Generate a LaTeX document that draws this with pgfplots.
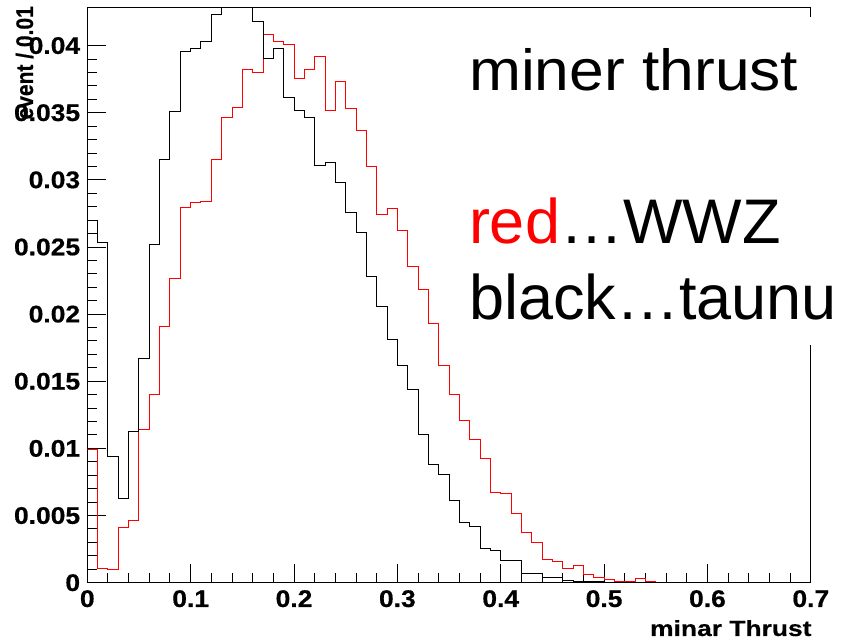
\documentclass[border=0pt]{standalone}
\usepackage{fontspec}
\setmainfont{Liberation Sans}
\newfontfamily\tickfont[FakeStretch=1.1, BoldFeatures={FakeBold=0.6}]{Liberation Sans}
\newfontfamily\labfont[FakeStretch=1.2, BoldFeatures={FakeBold=0.5}]{Liberation Sans}
\newfontfamily\yfont[FakeStretch=0.875, BoldFeatures={FakeBold=0.5}]{Liberation Sans}
\newfontfamily\titfont[FakeStretch=1.075]{Liberation Sans}
\newfontfamily\bigfont{Liberation Sans}
\usepackage{pgfplots}
\usepackage{pgfplotstable}
\pgfplotsset{compat=1.18}
\pgfplotstableread{
x r b
0.00 0.00989 0.02700
0.01 0.00107 0.02536
0.02 0.00100 0.00939
0.03 0.00413 0.00629
0.04 0.00462 0.01125
0.05 0.01138 0.01667
0.06 0.01399 0.02522
0.07 0.01908 0.03150
0.08 0.02268 0.03510
0.09 0.02797 0.03957
0.10 0.02835 0.03982
0.11 0.02839 0.04034
0.12 0.03150 0.04230
0.13 0.03468 0.04400
0.14 0.03542 0.04520
0.15 0.03820 0.04400
0.16 0.03796 0.04180
0.17 0.04081 0.03907
0.18 0.04031 0.03975
0.19 0.04007 0.03610
0.20 0.03753 0.03517
0.21 0.03820 0.03468
0.22 0.03920 0.03107
0.23 0.03515 0.03130
0.24 0.03733 0.02980
0.25 0.03535 0.02760
0.26 0.03366 0.02608
0.27 0.03100 0.02278
0.28 0.02740 0.02057
0.29 0.02790 0.01809
0.30 0.02621 0.01615
0.31 0.02355 0.01436
0.32 0.02181 0.01106
0.33 0.01933 0.00882
0.34 0.01615 0.00803
0.35 0.01399 0.00609
0.36 0.01205 0.00450
0.37 0.01068 0.00417
0.38 0.00922 0.00256
0.39 0.00674 0.00239
0.40 0.00666 0.00169
0.41 0.00517 0.00166
0.42 0.00373 0.00070
0.43 0.00298 0.00070
0.44 0.00175 0.00040
0.45 0.00160 0.00040
0.46 0.00107 0.00020
0.47 0.00126 0.00010
0.48 0.00064 0.00010
0.49 0.00035 0.00010
0.50 0.00025 0.00000
0.51 0.00008 0.00000
0.52 0.00008 0.00000
0.53 0.00033 0.00000
0.54 0.00010 0.00000
0.55 0.00000 0.00000
0.56 0.00000 0.00000
0.57 0.00000 0.00000
0.58 0.00000 0.00000
0.59 0.00000 0.00000
0.60 0.00000 0.00000
0.61 0.00000 0.00000
0.62 0.00000 0.00000
0.63 0.00000 0.00000
0.64 0.00000 0.00000
0.65 0.00000 0.00000
0.66 0.00000 0.00000
0.67 0.00000 0.00000
0.68 0.00000 0.00000
0.69 0.00000 0.00000
0.70 0.00000 0.00000
}\histdata
\begin{document}
\begin{tikzpicture}
\useasboundingbox (-87.3pt,-61.3pt) rectangle (755.7pt,582.7pt);
\begin{axis}[
  scale only axis, width=723.5pt, height=574.7pt,
  at={(0pt,0pt)}, anchor=south west,
  xmin=0, xmax=0.7, ymin=0, ymax=0.0428,
  axis line style={line width=1pt},
  tick align=inside, xtick pos=bottom, ytick pos=left,
  xtick={0,0.1,0.2,0.3,0.4,0.5,0.6,0.7},
  xticklabels={0,0.1,0.2,0.3,0.4,0.5,0.6,0.7},
  ytick={0,0.005,0.01,0.015,0.02,0.025,0.03,0.035,0.04},
  yticklabels={0,0.005,0.01,0.015,0.02,0.025,0.03,0.035,0.04},
  scaled x ticks=false, scaled y ticks=false,
  minor x tick num=4, minor y tick num=4,
  major tick length=19pt, minor tick length=9.5pt,
  tick style={line width=1pt, black},
  /pgf/number format/assume math mode=true,
  ticklabel style={font=\tickfont\bfseries\fontsize{24}{24}\selectfont},
  xticklabel style={anchor=north, inner sep=0pt, yshift=-7.3pt},
  yticklabel style={anchor=east, inner sep=0pt, xshift=-7pt},
  clip=true,
]
\addplot[red, line width=1pt, const plot mark left] table[x=x,y=r] {\histdata};
\addplot[black, line width=1pt, const plot mark left] table[x=x,y=b] {\histdata};
\end{axis}
\fill[white] (374.7pt,237.7pt) rectangle (760pt,565.7pt);
\node[anchor=base west, inner sep=0pt, font=\titfont\fontsize{58}{58}\selectfont] at (381.6pt,492pt) {miner thrust};
\node[anchor=base west, inner sep=0pt, font=\bigfont\fontsize{63}{63}\selectfont] at (381.5pt,339.4pt) {\textcolor{red}{red}…WWZ};
\node[anchor=base west, inner sep=0pt, font=\bigfont\fontsize{63}{63}\selectfont] at (381.5pt,262.7pt) {black…taunu};
\node[rotate=90, anchor=base east, inner sep=0pt, font=\yfont\bfseries\fontsize{24}{24}\selectfont] at (-54.3pt,576.7pt) {event / 0.01};
\node[anchor=base east, inner sep=0pt, font=\labfont\bfseries\fontsize{22}{22}\selectfont] at (724.4pt,-53.3pt) {minar Thrust};
\end{tikzpicture}
\end{document}
